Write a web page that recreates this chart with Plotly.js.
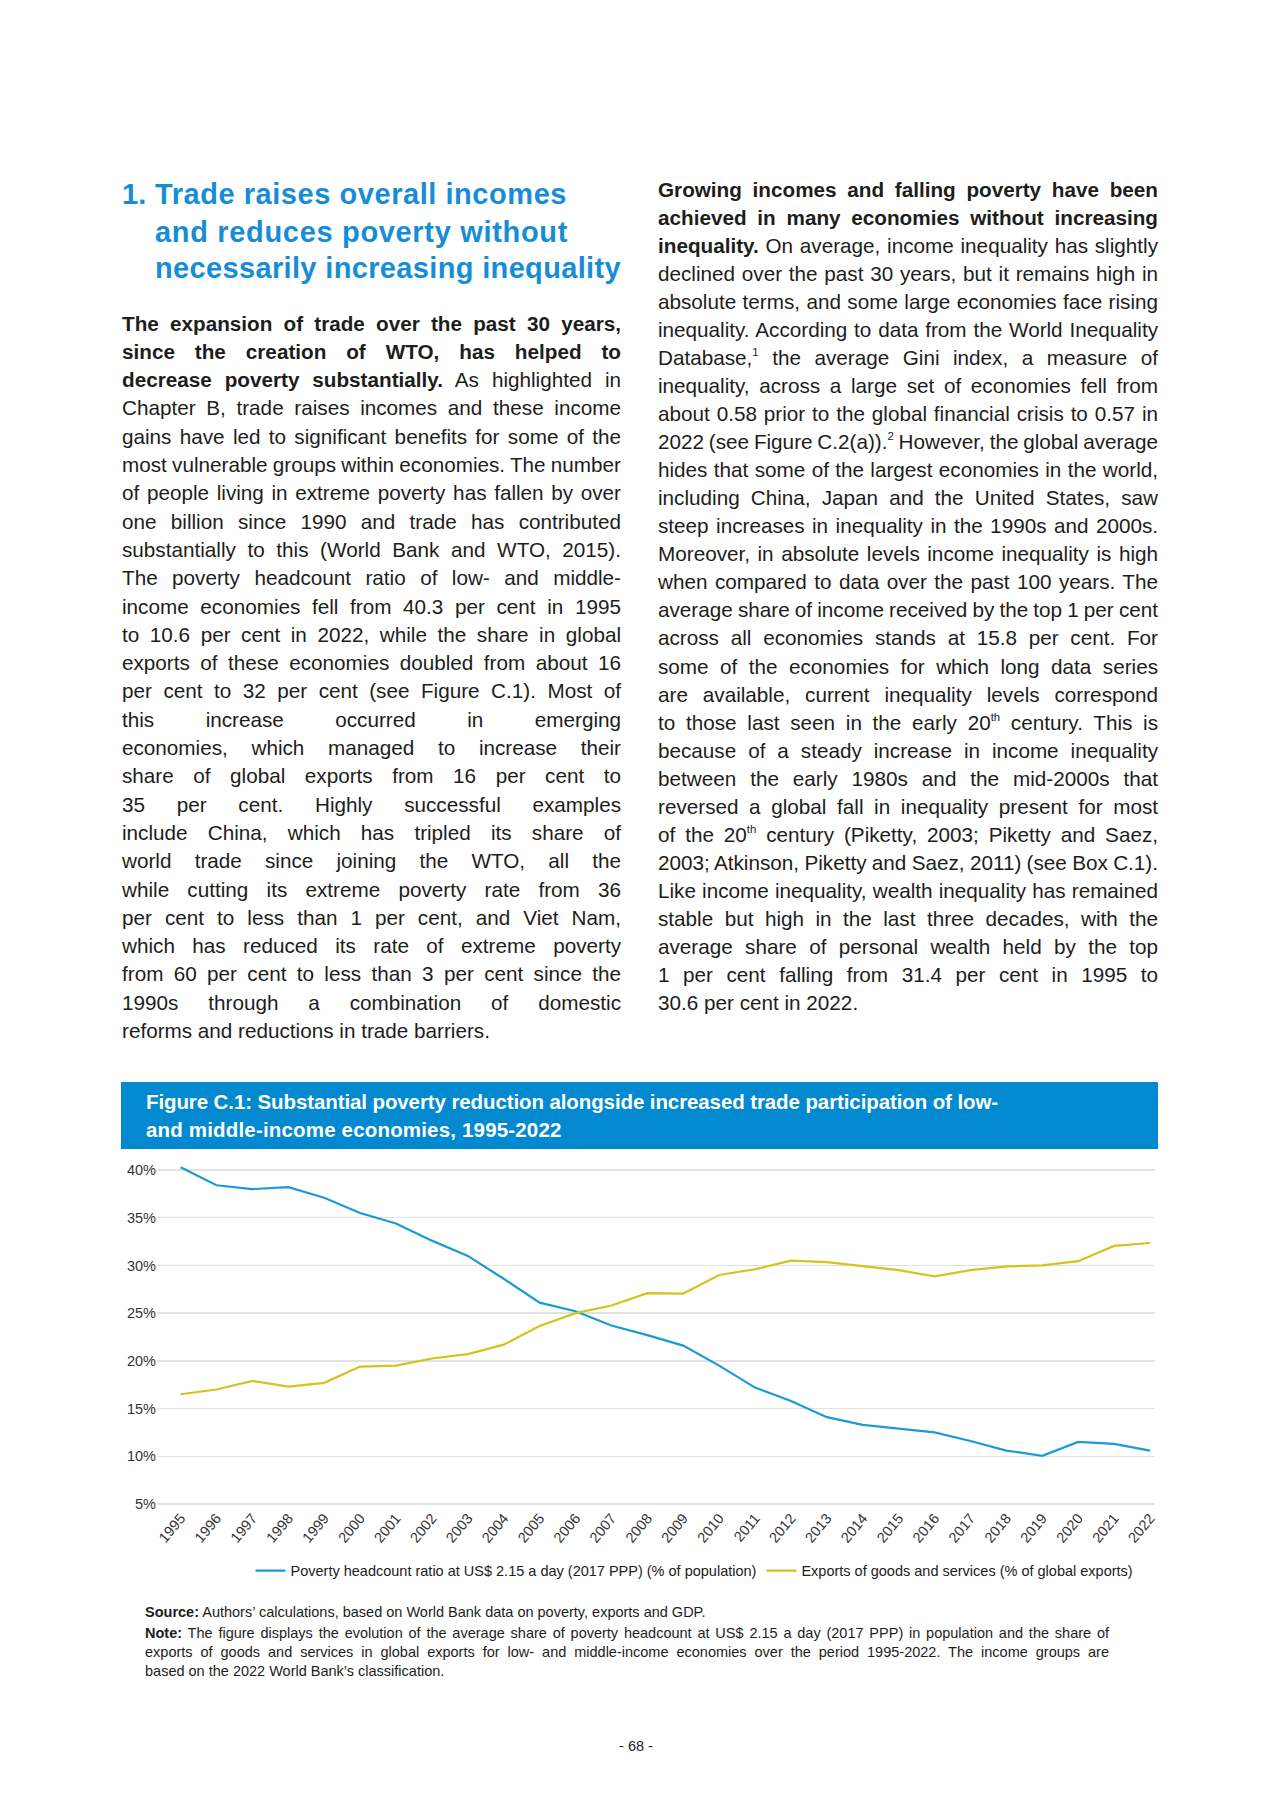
<!DOCTYPE html>
<html>
<head>
<meta charset="utf-8">
<script src="https://cdn.plot.ly/plotly-3.0.1.min.js"></script>
<style>
html,body{margin:0;padding:0;background:#fff;}
body{width:1280px;height:1809px;position:relative;overflow:hidden;font-family:"Liberation Sans",Arial,Helvetica,sans-serif;color:#1d1d1b;}
.ln{position:absolute;white-space:nowrap;}
.ln > span{display:inline-block;white-space:nowrap;}
.body{font-size:20.7px;line-height:28px;}
sup{font-size:0.55em;line-height:0;vertical-align:0.75em;}
.hd{position:absolute;white-space:nowrap;font-weight:bold;color:#168dd5;font-size:29px;line-height:37px;}
#figbox{position:absolute;left:121px;top:1082px;width:1037px;height:67px;background:#0289d0;}
.ft{font-weight:bold;color:#fff;font-size:20.5px;line-height:28px;}
.src{font-size:14.5px;line-height:19px;}
#chart{position:absolute;left:0;top:1150px;width:1280px;height:460px;}
</style>
</head>
<body>
<div id="figbox"></div>
<div id="chart"></div>
<script>
// ---------------- data ----------------
const years = ['1995','1996','1997','1998','1999','2000','2001','2002','2003','2004','2005','2006','2007','2008','2009','2010','2011','2012','2013','2014','2015','2016','2017','2018','2019','2020','2021','2022'];
const povertyRatio = [40.3,38.4,38.0,38.2,37.1,35.5,34.4,32.6,31.0,28.6,26.1,25.2,23.7,22.7,21.6,19.5,17.2,15.8,14.1,13.3,12.9,12.5,11.6,10.6,10.05,11.5,11.3,10.6];
const exportShare = [16.5,17.0,17.9,17.3,17.7,19.4,19.5,20.25,20.7,21.7,23.65,25.0,25.8,27.1,27.05,29.0,29.6,30.5,30.35,29.9,29.5,28.85,29.5,29.9,30.0,30.45,32.05,32.35];
const yTickVals = [5,10,15,20,25,30,35,40];
const yTickText = ['5%','10%','15%','20%','25%','30%','35%','40%'];
const seriesNames = ['Poverty headcount ratio at US$ 2.15 a day (2017 PPP) (% of population)','Exports of goods and services (% of global exports)'];

// ---------------- page text ----------------
const headingLines = ['Trade raises overall incomes','and reduces poverty without','necessarily increasing inequality'];
const leftLines = [
 '<b>The expansion of trade over the past 30 years,</b>',
 '<b>since the creation of WTO, has helped to</b>',
 '<b>decrease poverty substantially.</b> As highlighted in',
 'Chapter B, trade raises incomes and these income',
 'gains have led to significant benefits for some of the',
 'most vulnerable groups within economies. The number',
 'of people living in extreme poverty has fallen by over',
 'one billion since 1990 and trade has contributed',
 'substantially to this (World Bank and WTO, 2015).',
 'The poverty headcount ratio of low- and middle-',
 'income economies fell from 40.3 per cent in 1995',
 'to 10.6 per cent in 2022, while the share in global',
 'exports of these economies doubled from about 16',
 'per cent to 32 per cent (see Figure C.1). Most of',
 'this increase occurred in emerging',
 'economies, which managed to increase their',
 'share of global exports from 16 per cent to',
 '35 per cent. Highly successful examples',
 'include China, which has tripled its share of',
 'world trade since joining the WTO, all the',
 'while cutting its extreme poverty rate from 36',
 'per cent to less than 1 per cent, and Viet Nam,',
 'which has reduced its rate of extreme poverty',
 'from 60 per cent to less than 3 per cent since the',
 '1990s through a combination of domestic',
 'reforms and reductions in trade barriers.'
];
const rightLines = [
 '<b>Growing incomes and falling poverty have been</b>',
 '<b>achieved in many economies without increasing</b>',
 '<b>inequality.</b> On average, income inequality has slightly',
 'declined over the past 30 years, but it remains high in',
 'absolute terms, and some large economies face rising',
 'inequality. According to data from the World Inequality',
 'Database,<sup>1</sup> the average Gini index, a measure of',
 'inequality, across a large set of economies fell from',
 'about 0.58 prior to the global financial crisis to 0.57 in',
 '2022 (see Figure C.2(a)).<sup>2</sup> However, the global average',
 'hides that some of the largest economies in the world,',
 'including China, Japan and the United States, saw',
 'steep increases in inequality in the 1990s and 2000s.',
 'Moreover, in absolute levels income inequality is high',
 'when compared to data over the past 100 years. The',
 'average share of income received by the top 1 per cent',
 'across all economies stands at 15.8 per cent. For',
 'some of the economies for which long data series',
 'are available, current inequality levels correspond',
 'to those last seen in the early 20<sup>th</sup> century. This is',
 'because of a steady increase in income inequality',
 'between the early 1980s and the mid-2000s that',
 'reversed a global fall in inequality present for most',
 'of the 20<sup>th</sup> century (Piketty, 2003; Piketty and Saez,',
 '2003; Atkinson, Piketty and Saez, 2011) (see Box C.1).',
 'Like income inequality, wealth inequality has remained',
 'stable but high in the last three decades, with the',
 'average share of personal wealth held by the top',
 '1 per cent falling from 31.4 per cent in 1995 to',
 '30.6 per cent in 2022.'
];
const figTitleLines = ['Figure C.1: Substantial poverty reduction alongside increased trade participation of low-','and middle-income economies, 1995-2022'];
const sourceLine = '<b>Source:</b> Authors\u2019 calculations, based on World Bank data on poverty, exports and GDP.';
const noteLines = [
 '<b>Note:</b> The figure displays the evolution of the average share of poverty headcount at US$ 2.15 a day (2017 PPP) in population and the share of',
 'exports of goods and services in global exports for low- and middle-income economies over the period 1995-2022. The income groups are',
 'based on the 2022 World Bank\u2019s classification.'
];
const pageNumber = '- 68 -';

// ---------------- build text ----------------
function addLine(html, cls, left, top, width, mode){
  const d = document.createElement('div');
  d.className = 'ln ' + cls;
  d.style.left = left + 'px';
  d.style.top = top + 'px';
  d.dataset.w = width;
  d.dataset.mode = mode; // 'ws' word-spacing, 'ls' letter-spacing, 'none'
  const s = document.createElement('span');
  s.innerHTML = html;
  d.appendChild(s);
  document.body.appendChild(d);
  return d;
}
// heading
const h1 = document.createElement('div');
h1.className='hd'; h1.style.left='122px'; h1.style.top=(194.5-18.5)+'px'; h1.textContent='1.';
document.body.appendChild(h1);
const headCenters=[194.5,232,268.7], headWidths=[412,413,466];
headingLines.forEach((t,i)=>{ addLine(t,'hd',155,headCenters[i]-18.5,headWidths[i],'ls'); });

leftLines.forEach((t,i)=>{ addLine(t,'body',122,323.5-14+i*28.3,499, i===leftLines.length-1?'none':'ws'); });
rightLines.forEach((t,i)=>{ addLine(t,'body',658,190-14+i*28.03,500, i===rightLines.length-1?'none':'ws'); });

addLine(figTitleLines[0],'ft',146,1102.3-14,852,'ls');
addLine(figTitleLines[1],'ft',146,1130-14,415.6,'ls');

addLine(sourceLine,'src',145,1612-9.5,590,'none');
noteLines.forEach((t,i)=>{ addLine(t,'src',145,1633.5-9.5+i*19.2,964, i===noteLines.length-1?'none':'ws'); });
const pn = addLine(pageNumber,'src',0,1746.5-9.5,0,'none');
pn.style.width='1272px'; pn.style.textAlign='center'; pn.style.fontSize='14.5px';

function fitLines(){
  document.querySelectorAll('.ln').forEach(el=>{
    const mode = el.dataset.mode; const sp = el.firstElementChild;
    if(!sp || mode==='none') return;
    const target = parseFloat(el.dataset.w);
    if(mode==='ws'){
      sp.style.wordSpacing='0px';
      const w = sp.getBoundingClientRect().width;
      const n = (sp.textContent.match(/ /g)||[]).length;
      if(n>0) sp.style.wordSpacing = ((target-w)/n)+'px';
    } else if(mode==='ls'){
      sp.style.letterSpacing='0px';
      const w = sp.getBoundingClientRect().width;
      const n = sp.textContent.length;
      if(n>1) sp.style.letterSpacing = ((target-w)/n)+'px';
    }
  });
}
fitLines();
if(document.fonts && document.fonts.ready) document.fonts.ready.then(fitLines);

// ---------------- chart ----------------
const traces = [
  {x: years, y: povertyRatio, type:'scatter', mode:'lines', name: seriesNames[0], line:{color:'#1b9ad6', width:2.2}},
  {x: years, y: exportShare, type:'scatter', mode:'lines', name: seriesNames[1], line:{color:'#d5c21c', width:2.2}}
];
const layout = {
  width:1280, height:460,
  margin:{l:157, r:125, t:10, b:104},
  paper_bgcolor:'rgba(0,0,0,0)', plot_bgcolor:'rgba(0,0,0,0)',
  font:{family:'Liberation Sans, Arial, sans-serif', color:'#333', size:14},
  showlegend:true,
  legend:{orientation:'h', x:0.5386, xanchor:'center', y:-0.187, yanchor:'middle', font:{size:14.5, color:'#222'}, bgcolor:'rgba(0,0,0,0)', traceorder:'normal'},
  xaxis:{type:'category', range:[-0.657, 27.14], tickangle:-50, tickfont:{size:14.5, color:'#333'}, showgrid:false, showline:false, zeroline:false, ticks:'', fixedrange:true},
  yaxis:{range:[4.79, 41.05], tickvals:yTickVals, ticktext:yTickText, tickfont:{size:14.5, color:'#333'}, gridcolor:'#e2e2e2', gridwidth:1.5, zeroline:false, showline:false, ticks:'', fixedrange:true},
  hovermode:false
};
Plotly.newPlot('chart', traces, layout, {displayModeBar:false, staticPlot:true});
</script>
</body>
</html>
